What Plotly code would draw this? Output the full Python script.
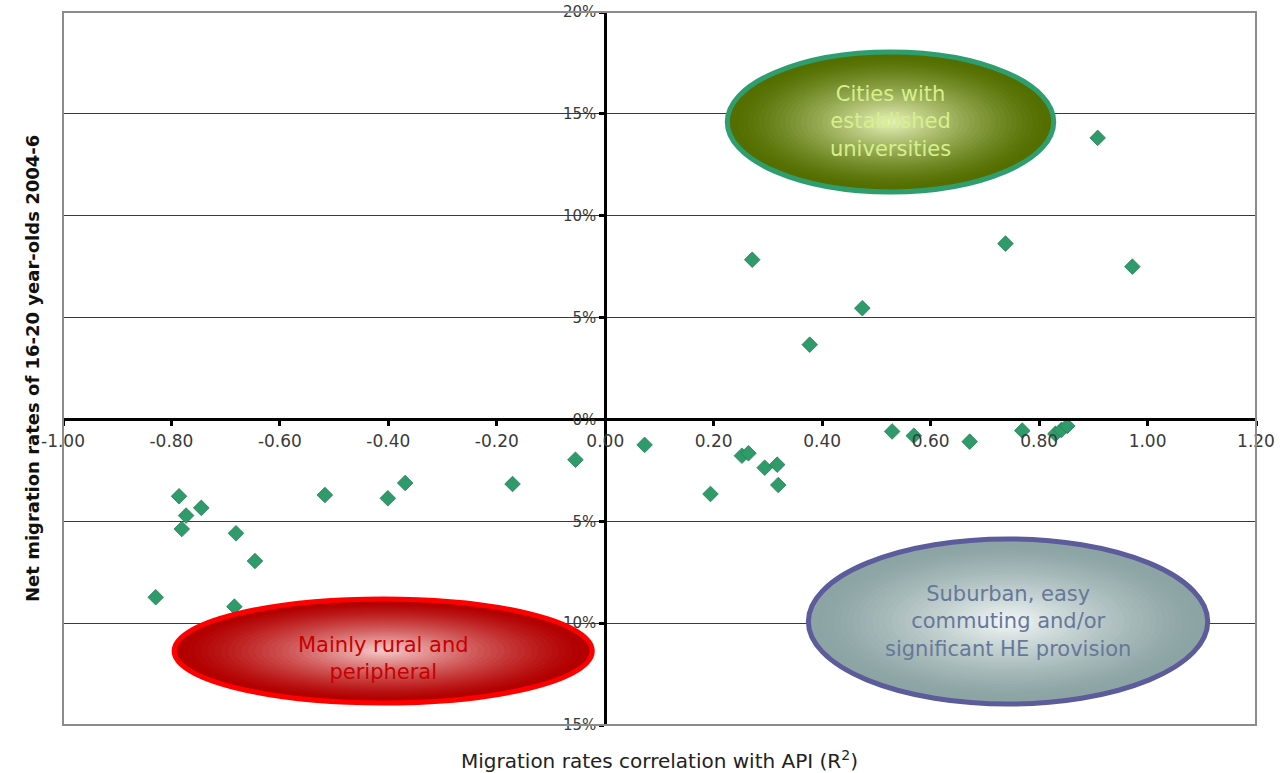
import plotly.graph_objects as go

# ---- data ----
api_r2 = [-0.786, -0.773, -0.745, -0.781, -0.681, -0.646, -0.829, -0.684,
          -0.517, -0.401, -0.369, -0.171, -0.055,
          0.0725, 0.252, 0.264, 0.294, 0.317, 0.319, 0.194,
          0.529, 0.569, 0.672, 0.769, 0.830, 0.841, 0.852,
          0.908, 0.271, 0.738, 0.972, 0.474, 0.377]
net_migration = [-0.0377, -0.0472, -0.0434, -0.0538, -0.0559, -0.0695, -0.0873, -0.0919,
                 -0.0371, -0.0387, -0.0312, -0.0317, -0.0198,
                 -0.0125, -0.0178, -0.0166, -0.0237, -0.0222, -0.0322, -0.0366,
                 -0.0059, -0.0080, -0.0109, -0.0055, -0.0071, -0.0052, -0.0032,
                 0.1382, 0.0784, 0.0863, 0.0750, 0.0546, 0.0367]

x_ticks = [-1.0, -0.8, -0.6, -0.4, -0.2, 0.0, 0.2, 0.4, 0.6, 0.8, 1.0, 1.2]
x_tick_labels = ["-1.00", "-0.80", "-0.60", "-0.40", "-0.20", "0.00",
                 "0.20", "0.40", "0.60", "0.80", "1.00", "1.20"]
y_ticks = [-0.15, -0.10, -0.05, 0.0, 0.05, 0.10, 0.15, 0.20]
y_tick_labels = ["15%", "10%", "5%", "0%", "5%", "10%", "15%", "20%"]

x_range = [-1.0, 1.2]
y_range = [-0.15, 0.20]

# annotation ellipses: label, x0, x1, y0, y1, edge colour, centre colour, border, text colour, text shift
groups = [
    ("Cities with<br>established<br>universities", 0.225, 0.827, 0.1117, 0.1804,
     (84, 110, 0), (234, 246, 190), "#2e9e6e", "#d6f08a", 0),
    ("Mainly rural and<br>peripheral", -0.795, -0.024, -0.1392, -0.0881,
     (178, 0, 0), (248, 206, 206), "#ff0000", "#c80000", -8),
    ("Suburban, easy<br>commuting and/or<br>significant HE provision", 0.3745, 1.111, -0.1397, -0.0587,
     (140, 164, 164), (244, 248, 248), "#5c5c9c", "#66789a", 0),
]

FONT = "DejaVu Sans, Verdana, sans-serif"

fig = go.Figure()
fig.add_trace(go.Scatter(
    x=api_r2, y=net_migration, mode="markers",
    marker=dict(symbol="diamond", size=12, color="#2f9a6a",
                line=dict(color="#267f57", width=0.8)),
    hoverinfo="x+y", showlegend=False,
))

shapes = []
annotations = []
N = 30
for label, x0, x1, y0, y1, edge, centre, border, tcol, tshift in groups:
    cx, cy = (x0 + x1) / 2, (y0 + y1) / 2
    hx, hy = (x1 - x0) / 2, (y1 - y0) / 2
    shapes.append(dict(type="circle", xref="x", yref="y", layer="above",
                       x0=x0, x1=x1, y0=y0, y1=y1,
                       fillcolor="rgb(%d,%d,%d)" % edge,
                       line=dict(color=border, width=5)))
    for k in range(1, N):
        t = k / N
        s = 1 - t
        m = t ** 1.3
        c = tuple(int(round(edge[i] + (centre[i] - edge[i]) * m)) for i in range(3))
        shapes.append(dict(type="circle", xref="x", yref="y", layer="above",
                           x0=cx - hx * s * 0.97, x1=cx + hx * s * 0.97,
                           y0=cy - hy * s * 0.95, y1=cy + hy * s * 0.95,
                           fillcolor="rgb(%d,%d,%d)" % c,
                           line=dict(width=0)))
    annotations.append(dict(x=cx, y=cy, xref="x", yref="y", text=label,
                            showarrow=False, align="center", yshift=tshift,
                            font=dict(family=FONT, size=21, color=tcol)))

# plot-area frame
shapes.append(dict(type="rect", xref="paper", yref="paper", x0=0, x1=1, y0=0, y1=1,
                   line=dict(color="#8c8c8c", width=2), layer="above"))

# axis titles
annotations.append(dict(text="Migration rates correlation with API (R<sup>2</sup>)",
                        xref="paper", yref="paper", x=0.5, y=0, yshift=-35,
                        yanchor="middle", showarrow=False,
                        font=dict(family=FONT, size=20, color="#222222")))
annotations.append(dict(text="<b>Net migration rates of 16-20 year-olds 2004-6</b>",
                        xref="paper", yref="paper", x=0, xshift=-43, y=0.5,
                        textangle=-90, showarrow=False,
                        font=dict(family=FONT, size=18, color="#111111")))

x_pos = (0 - x_range[0]) / (x_range[1] - x_range[0])
y_pos = (0 - y_range[0]) / (y_range[1] - y_range[0])

fig.update_layout(
    width=1282, height=773,
    margin=dict(l=63, r=26, t=12, b=48, autoexpand=False),
    paper_bgcolor="white", plot_bgcolor="white",
    font=dict(family=FONT, size=14, color="#333333"),
    xaxis=dict(range=x_range, tickvals=x_ticks, ticktext=x_tick_labels,
               showgrid=False, zeroline=False, automargin=False,
               ticklabeloverflow="allow",
               showline=True, linecolor="black", linewidth=3,
               ticks="outside", ticklen=5, tickwidth=3, tickcolor="black",
               anchor="free", position=y_pos,
               tickfont=dict(family=FONT, size=17, color="#3a3a3a")),
    yaxis=dict(range=y_range, tickvals=y_ticks, ticktext=y_tick_labels,
               showgrid=True, gridcolor="#3a3a3a", gridwidth=1, zeroline=False,
               automargin=False, ticklabeloverflow="allow",
               showline=True, linecolor="black", linewidth=3,
               ticks="outside", ticklen=5, tickwidth=3, tickcolor="black",
               anchor="free", position=x_pos,
               tickfont=dict(family=FONT, size=15, color="#3a3a3a")),
    shapes=shapes, annotations=annotations,
    showlegend=False,
)

fig.write_html("out.html",
               config={"displayModeBar": False},
               post_script="document.body.style.margin='0px';document.body.style.overflow='hidden';")
